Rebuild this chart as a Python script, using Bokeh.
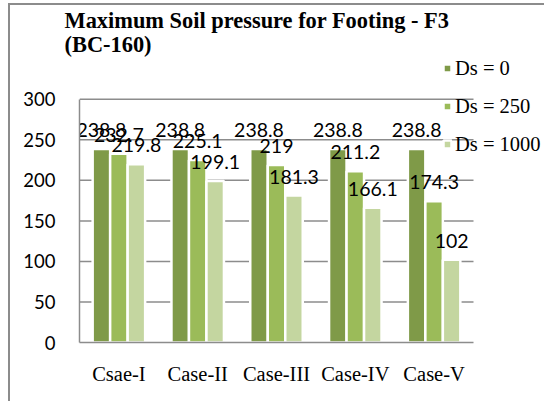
from bokeh.plotting import figure
from bokeh.models import ColumnDataSource, Range1d, Legend, LegendItem, FixedTicker
from bokeh.core.properties import value
from bokeh.embed import file_html
from bokeh.resources import INLINE

cases = ["Csae-I", "Case-II", "Case-III", "Case-IV", "Case-V"]
ds0 = [238.8, 238.8, 238.8, 238.8, 238.8]
ds250 = [232.7, 225.1, 219.0, 211.2, 174.3]
ds1000 = [219.8, 199.1, 181.3, 166.1, 102.0]
series_names = ["Ds = 0", "Ds = 250", "Ds = 1000"]
colors = ["#7F9A48", "#9BBB59", "#C4D6A0"]
y_ticks = [0, 50, 100, 150, 200, 250, 300]

def fmt(v):
    return str(int(v)) if float(v).is_integer() else str(v)

n = len(cases)
centers = [i + 0.5 for i in range(n)]
y_max = y_ticks[-1]

# layout (page pixels)
fig_left, fig_top, border_w = 8, 3, 2
cx0, cy0 = fig_left + border_w, fig_top + border_w
W, H = 546 - cx0, 403 - cy0
frame_left, frame_right, frame_top, frame_bottom = 79, 546, 48, 342
cat_px = (473 - frame_left) / n
unit_px = (frame_bottom - 92) / y_max

p = figure(width=W, height=H, output_backend="svg", toolbar_location=None,
           x_range=Range1d(0, (frame_right - frame_left) / cat_px),
           y_range=Range1d(0, (frame_bottom - frame_top) / unit_px),
           min_border_left=frame_left - cx0, min_border_right=0,
           min_border_top=frame_top - cy0, min_border_bottom=403 - frame_bottom)
p.margin = (fig_top, 0, 0, fig_left)
p.styles = {"border-left": "%dpx solid #8C8C8C" % border_w, "border-top": "%dpx solid #8C8C8C" % border_w}

p.title.text = "Maximum Soil pressure for Footing - F3\n(BC-160)"
p.title.text_font = "Liberation Serif"
p.title.text_font_size = "22.4px"
p.title.text_font_style = "bold"
p.title.text_color = "#000000"
p.title.text_line_height = 0.95
p.title.offset = -15
p.title.standoff = 0

# gridlines across the category area only
grid_src = ColumnDataSource(dict(y=y_ticks[1:], x0=[0] * (len(y_ticks) - 1), x1=[n] * (len(y_ticks) - 1)))
p.segment(x0="x0", x1="x1", y0="y", y1="y", source=grid_src, line_color="#8C8C8C", line_width=1.5)

spacing = 0.222
offsets = [-spacing, 0.0, spacing]
renderers = []
for off, vals, c in zip(offsets, [ds0, ds250, ds1000], colors):
    s = ColumnDataSource(dict(x=[cx + off for cx in centers], top=vals, lab=[fmt(v) for v in vals]))
    r = p.vbar(x="x", top="top", width=spacing, source=s,
               fill_color=c, line_color="white", line_width=2.5)
    renderers.append(r)
    p.text(x="x", y="top", text="lab", source=s,
           text_align="center", text_baseline="alphabetic", y_offset=-19,
           text_font=value("Lato"), text_font_size="19.5px", text_color="#000000")

legend = Legend(items=[LegendItem(label=nm, renderers=[r]) for nm, r in zip(series_names, renderers)],
                location=(363, 186), orientation="vertical",
                glyph_width=10, glyph_height=10, label_standoff=3, label_height=24, spacing=14,
                padding=0, margin=0, border_line_color=None, background_fill_alpha=0,
                label_text_font="Liberation Serif", label_text_font_size="20.5px", label_text_color="#000000")
p.add_layout(legend, "center")

p.xgrid.grid_line_color = None
p.ygrid.grid_line_color = None
p.outline_line_color = None

p.yaxis.ticker = FixedTicker(ticks=y_ticks)
p.yaxis.bounds = (0, y_max)
p.xaxis.ticker = FixedTicker(ticks=centers)
p.xaxis.major_label_overrides = {c: lab for c, lab in zip(centers, cases)}
p.xaxis.bounds = (0, n)

for ax in (p.xaxis, p.yaxis):
    ax.axis_line_color = "#8C8C8C"
    ax.axis_line_width = 1.5
    ax.major_tick_line_color = None
    ax.minor_tick_line_color = None
    ax.major_tick_out = 0
    ax.major_tick_in = 0
    ax.minor_tick_out = 0
    ax.minor_tick_in = 0
    ax.major_label_text_color = "#000000"

p.yaxis.major_label_text_font = "Lato"
p.yaxis.major_label_text_font_size = "18.5px"
p.yaxis.major_label_standoff = 24
p.xaxis.major_label_text_font = "Liberation Serif"
p.xaxis.major_label_text_font_size = "20.5px"
p.xaxis.major_label_standoff = 20

open("out.html", "w").write(file_html(p, INLINE))
